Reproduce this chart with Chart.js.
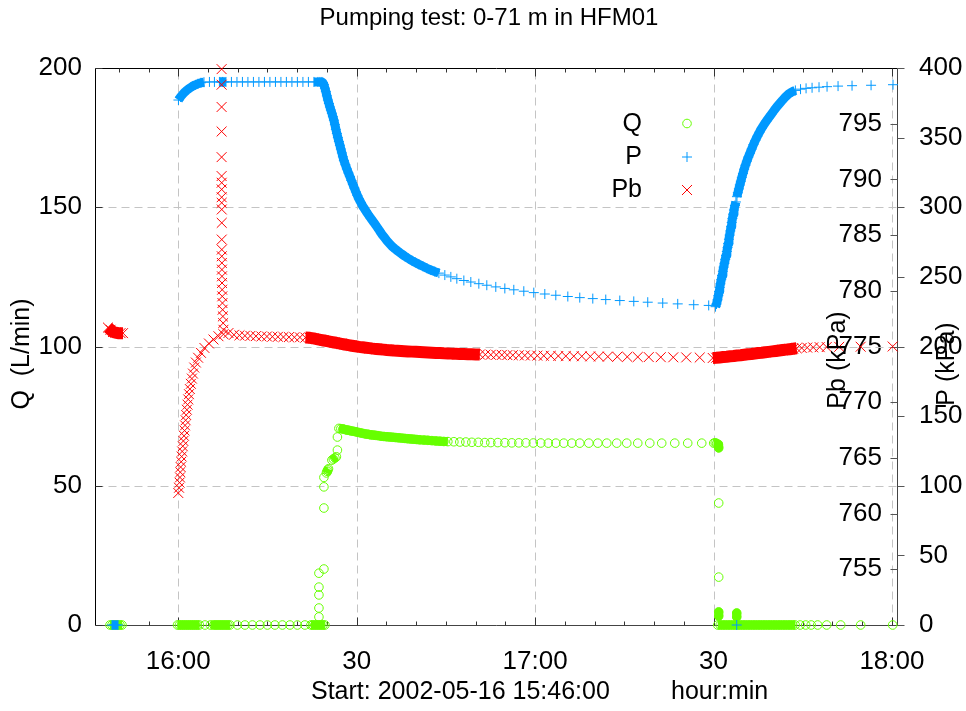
<!DOCTYPE html>
<html><head><meta charset="utf-8">
<script src="https://cdn.jsdelivr.net/npm/chart.js@4.4.0/dist/chart.umd.min.js"></script>
<style>html,body{margin:0;padding:0;background:#fff;}</style>
</head><body>
<canvas id="c" width="966" height="711"></canvas>
<script>
// ---------- texts ----------
const chartTitle = 'Pumping test: 0-71 m in HFM01';
const xLabelStart = 'Start: 2002-05-16 15:46:00';
const xLabelUnit = 'hour:min';
const qAxisTitle = 'Q  (L/min)';
const pbAxisTitle = 'Pb (kPa)';
const pAxisTitle = 'P (kPa)';
const legendLabels = ['Q', 'P', 'Pb'];

// ---------- ticks ----------
const xTickMinutes = [14, 44, 74, 104, 134];          // minutes after 15:46
const xTickLabels = ['16:00', '30', '17:00', '30', '18:00'];
const qTicks = [0, 50, 100, 150, 200];
const pbTicks = [755, 760, 765, 770, 775, 780, 785, 790, 795];
const pTicks = [0, 50, 100, 150, 200, 250, 300, 350, 400];

// ---------- data: time in minutes after 15:46:00 ----------
// Q (L/min)
const tQ = [2.52,2.86,3.19,3.53,3.87,4.20,4.54,
  13.87,14.20,14.54,14.87,15.21,15.55,15.88,16.22,16.55,16.89,17.23,17.56,
  18.49,19.41,
  20.00,20.34,20.67,21.01,21.34,21.68,22.02,22.35,22.69,
  23.95,25.21,26.47,27.73,28.99,30.25,31.51,32.77,34.03,35.29,
  36.30,36.64,36.97,37.31,37.65,37.98,38.32,38.66,
  37.65,37.65,37.65,37.65,37.65,38.49,38.49,38.49,38.49,
  38.91,39.03,39.14,39.26,
  39.83,40.08,40.34,40.59,
  40.76,40.76,
  41.01,41.34,41.68,42.02,42.35,42.69,43.03,43.36,43.78,44.20,44.62,45.04,45.46,45.88,46.30,46.72,47.14,47.56,48.07,48.57,
  49.08,49.58,50.08,50.59,51.09,51.60,52.10,52.61,53.11,53.61,54.12,54.62,55.29,55.97,56.64,57.31,57.98,58.66,59.33,
  60.34,61.34,62.35,63.36,64.45,65.55,66.55,67.73,68.91,70.08,71.26,72.44,73.70,74.96,76.22,77.48,78.82,80.17,81.51,83.03,
  84.54,86.05,87.73,89.41,91.26,93.28,95.29,97.48,99.66,102.02,
  104.03,104.29,104.54,104.79,104.87,
  104.87,104.87,104.87,104.87,107.90,107.90,
  104.71,105.13,105.55,105.97,106.39,106.81,107.23,107.65,108.07,108.49,108.91,109.33,109.75,110.17,110.59,111.01,
  111.43,111.85,112.27,112.69,113.11,113.53,113.95,114.37,114.79,115.21,115.63,116.05,116.47,116.89,117.31,117.73,
  118.57,119.50,120.42,121.51,123.03,125.38,128.74,134.12];
const vQ = [0,0,0,0,0,0,0,
  0,0,0,0,0,0,0,0,0,0,0,0,
  0,0,
  0,0,0,0,0,0,0,0,0,
  0,0,0,0,0,0,0,0,0,0,
  0,0,0,0,0,0,0,0,
  2.9,6.1,10.8,13.6,18.6,20.1,42.0,49.6,53.0,
  54.6,55.2,55.7,56.1,
  59.2,59.6,60.0,60.4,
  62.8,67.5,
  70.6,70.5,70.4,70.2,70.0,69.9,69.7,69.6,69.4,69.2,69.0,68.8,68.6,68.5,68.3,68.2,68.1,68.0,67.8,67.7,
  67.6,67.5,67.4,67.3,67.2,67.1,67.0,66.9,66.8,66.7,66.6,66.5,66.4,66.3,66.2,66.1,66.0,65.9,65.85,
  65.8,65.7,65.7,65.6,65.6,65.5,65.5,65.5,65.45,65.4,65.4,65.4,65.35,65.35,65.3,65.3,65.3,65.3,65.3,65.3,
  65.3,65.3,65.3,65.3,65.3,65.3,65.3,65.3,65.3,65.3,
  65.3,65.4,65.2,64.8,63.6,
  43.8,17.2,4.7,3.2,4.3,2.9,
  0,0,0,0,0,0,0,0,0,0,0,0,0,0,0,0,
  0,0,0,0,0,0,0,0,0,0,0,0,0,0,0,0,
  0,0,0,0,0,0,0,0];

// P (kPa)
const tP = [2.86,3.19,3.53,3.87,
  14.03,14.37,14.71,15.04,15.38,15.71,16.05,16.47,16.89,17.31,17.82,18.32,
  19.24,20.08,20.92,21.18,21.43,21.68,22.02,22.94,23.87,24.79,25.71,26.64,27.56,28.49,29.41,30.34,31.26,32.18,33.11,34.03,34.96,35.88,36.81,37.48,37.82,38.15,
  38.32,38.49,38.66,38.82,38.99,39.16,39.33,39.50,39.66,39.83,40.00,40.17,40.34,40.50,40.67,40.84,41.01,41.18,41.34,41.51,41.68,41.85,
  42.10,42.35,42.61,42.86,43.11,43.36,43.61,43.87,44.12,44.37,44.71,45.04,45.38,45.71,46.05,46.39,46.72,47.06,47.39,47.82,48.24,48.66,49.08,
  49.50,49.92,50.42,50.92,51.51,52.10,52.69,53.28,53.87,54.45,55.13,55.80,56.47,57.14,57.82,
  58.82,59.83,60.84,62.02,63.19,64.54,65.88,67.39,68.91,70.42,72.10,73.78,75.63,77.48,79.50,81.51,83.70,85.88,88.24,90.59,92.94,95.46,97.98,100.67,103.19,
  104.34,104.50,104.67,104.81,104.93,105.04,105.16,105.30,105.43,105.57,105.70,105.84,105.97,106.10,106.24,106.36,106.47,106.59,106.71,106.83,106.94,107.06,107.18,107.30,107.43,107.60,107.77,107.94,
  108.09,108.26,108.42,108.59,108.76,108.95,109.15,109.37,109.60,109.85,110.12,110.41,110.71,111.03,111.37,111.72,112.09,112.48,112.88,113.30,113.74,114.17,114.65,115.12,115.60,116.11,116.65,117.20,117.76,
  118.63,119.56,120.57,121.74,123.09,124.94,127.29,130.49,134.18,
  107.90];
const vP = [0,0,0,0,
  377.0,379.2,381.0,382.5,383.8,384.9,385.9,387.1,387.9,388.7,389.4,389.8,
  390,390,390,390,390,390,390,390,390,390,390,390,390,390,390,390,390,390,390,390,390,390,390,390,390,390,
  389.5,388.0,385.5,383.0,380.0,377.0,374.5,372.0,369.8,367.5,365.0,362.5,359.3,356.0,353.0,350.0,347.2,344.5,341.8,339.0,336.2,333.5,
  330.5,327.5,324.6,322.0,319.2,316.5,313.8,311.0,308.5,306.0,303.3,300.6,298.5,296.2,294.0,292.0,290.0,288.0,286.0,283.3,280.5,278.3,276.0,
  274.0,272.0,270.2,268.5,266.6,264.8,263.2,261.7,260.3,259.0,257.6,256.2,254.9,253.8,252.7,
  251.3,250.0,248.7,247.4,246.3,245.1,244.0,242.8,241.7,240.7,239.7,238.7,237.7,236.8,235.9,235.1,234.4,233.7,233.0,232.4,231.8,231.2,230.6,230.0,229.5,
  228.6,230.5,233.5,236.5,239.5,242.3,245.0,248.0,251.0,254.0,257.0,259.8,262.6,265.4,268.2,271.0,274.0,277.0,280.0,283.0,286.0,289.0,292.0,295.0,298.0,301.3,303.8,307.6,
  310.4,313.2,316.0,318.7,321.5,324.3,327.3,330.2,333.1,336.0,338.8,341.8,345.0,348.0,351.0,353.9,356.7,359.4,361.8,364.3,366.9,369.5,372.2,374.5,376.9,379.3,381.4,382.8,383.9,
  384.8,385.4,385.8,386.2,386.6,387.0,387.3,387.6,388.0,
  0];

// Pb (kPa)
const tPb = [2.18,2.61,3.03,3.45,3.87,4.29,4.71,
  14.00,14.13,14.22,14.29,14.34,14.40,14.49,14.57,14.66,14.76,14.86,14.97,15.06,15.14,15.24,15.33,15.45,15.56,15.68,15.80,
  15.95,16.12,16.29,16.47,16.69,16.96,17.34,17.82,18.40,19.16,19.92,20.76,21.60,22.44,
  21.29,21.29,21.29,21.29,21.29,21.29,21.30,21.30,21.30,21.30,21.31,21.31,21.31,21.32,21.32,21.33,21.34,21.35,21.36,21.38,21.40,21.43,21.46,21.50,21.55,21.60,
  23.36,24.29,25.21,26.13,27.06,27.98,28.91,29.83,30.76,31.68,32.61,33.53,34.45,35.38,
  36.13,36.72,37.31,37.90,38.49,39.08,39.66,40.25,40.84,41.43,42.02,42.61,43.19,43.78,44.37,44.96,45.55,46.13,46.72,47.31,
  47.90,48.49,49.08,49.66,50.25,50.84,51.43,52.02,52.61,53.28,53.95,54.62,55.29,55.97,56.64,57.31,57.98,58.66,59.33,60.00,
  60.67,61.34,62.02,62.69,63.36,64.03,64.71,
  65.63,66.55,67.48,68.40,69.33,70.25,71.26,72.27,73.28,74.37,75.46,76.64,77.90,79.16,80.50,81.85,83.28,84.71,86.22,87.82,
  89.50,91.26,93.11,95.13,97.23,99.41,101.68,
  103.87,104.45,105.04,105.63,106.22,106.81,107.39,107.98,108.57,109.16,109.75,110.34,110.92,111.51,112.10,112.69,113.28,113.87,
  114.45,115.04,115.63,116.22,116.81,117.39,117.98,
  118.82,119.75,120.76,121.85,123.03,125.13,128.74,134.12];
const vPb = [776.7,776.5,776.3,776.25,776.2,776.2,776.2,
  761.85,762.32,762.78,763.25,763.72,764.18,764.65,765.12,765.58,766.05,766.52,766.98,767.45,767.92,768.38,768.85,769.32,769.78,770.25,770.72,
  771.18,771.65,772.12,772.57,773.11,773.56,773.99,774.43,774.87,775.27,775.63,775.92,776.10,776.21,
  799.9,798.5,796.5,794.3,792.0,790.3,789.7,789.1,788.4,787.9,787.3,786.1,784.6,783.7,783.1,782.5,781.9,781.3,780.7,780.1,779.5,778.9,778.3,777.7,777.1,776.5,
  776.05,776.0,775.97,775.95,775.93,775.9,775.9,775.88,775.87,775.85,775.84,775.83,775.82,775.8,
  775.78,775.72,775.66,775.6,775.54,775.48,775.42,775.36,775.3,775.24,775.18,775.12,775.07,775.02,774.97,774.93,774.89,774.85,774.81,774.78,
  774.75,774.72,774.69,774.67,774.64,774.62,774.6,774.58,774.56,774.54,774.52,774.5,774.48,774.46,774.44,774.42,774.41,774.39,774.38,774.36,
  774.35,774.33,774.32,774.31,774.3,774.29,774.28,
  774.27,774.26,774.25,774.24,774.23,774.22,774.21,774.2,774.19,774.18,774.17,774.16,774.15,774.14,774.13,774.12,774.11,774.1,774.09,774.08,
  774.07,774.06,774.05,774.04,774.03,774.02,774.01,
  773.97,773.99,774.02,774.05,774.08,774.12,774.15,774.19,774.22,774.26,774.3,774.33,774.37,774.41,774.44,774.48,774.52,774.56,
  774.6,774.64,774.68,774.72,774.76,774.8,774.84,
  774.87,774.9,774.92,774.94,774.95,774.97,774.98,775.0];

// ---------- styling ----------
const FONT = "'Liberation Sans', Arial, sans-serif";
const COL_Q = '#66ff00', COL_P = '#0099ff', COL_PB = '#ff0000';
const BAND_GAP = 4.8;

function makeSet(label, t, v, axis, style, color, radius, band, order) {
  return {
    label, yAxisID: axis, order,
    data: t.map((x, i) => ({x, y: v[i]})),
    showLine: true, fill: false, tension: 0, clip: false,
    borderColor: color, borderWidth: band, borderCapStyle: 'butt', borderJoinStyle: 'round',
    pointStyle: style, pointRadius: radius, pointBorderWidth: 1,
    pointBorderColor: color, pointBackgroundColor: 'rgba(0,0,0,0)',
    segment: {
      borderColor: c => (Math.hypot(c.p1.x - c.p0.x, c.p1.y - c.p0.y) < BAND_GAP ? color : 'rgba(0,0,0,0)')
    }
  };
}

function seg(ctx, x1, y1, x2, y2) { ctx.beginPath(); ctx.moveTo(x1, y1); ctx.lineTo(x2, y2); ctx.stroke(); }

const deco = {
  id: 'deco',
  beforeDatasetsDraw(chart) {
    const {ctx, chartArea: a, scales} = chart;
    const X = scales.x, Q = scales.yQ, PB = scales.yPb, P = scales.yP;
    const L = Math.round(a.left) + 0.5, R = Math.round(a.right) + 0.5;
    const T = Math.round(a.top) + 0.5, B = Math.round(a.bottom) + 0.5;
    ctx.save();
    ctx.lineWidth = 1;
    // dashed grid
    ctx.strokeStyle = '#c4c4c4';
    ctx.setLineDash([8, 5]);
    for (const m of xTickMinutes) {
      const px = Math.round(X.getPixelForValue(m)) + 0.5;
      seg(ctx, px, B, px, T);
    }
    for (const q of qTicks) {
      if (q === Q.min || q === Q.max) continue;
      const py = Math.round(Q.getPixelForValue(q)) + 0.5;
      seg(ctx, L, py, R, py);
    }
    ctx.setLineDash([]);
    // frame
    ctx.strokeStyle = '#000';
    seg(ctx, L, T, R, T); seg(ctx, L, T, L, B);
    ctx.strokeStyle = '#444';
    seg(ctx, L, B, R + 0.5, B); seg(ctx, R, T, R, B);
    // x tics (inward, mirrored on top), every 5 min
    ctx.strokeStyle = '#333';
    for (let m = 4; m <= X.max + 1e-9; m += 5) {
      const px = Math.round(X.getPixelForValue(m)) + 0.5;
      const len = ((m - 14) % 30 === 0) ? 8 : 4;
      seg(ctx, px, B, px, B - len);
      seg(ctx, px, T, px, T + len);
    }
    for (const q of qTicks) { const py = Math.round(Q.getPixelForValue(q)) + 0.5; seg(ctx, L, py, L + 7, py); }
    ctx.strokeStyle = '#555';
    for (const v of pbTicks) { const py = Math.round(PB.getPixelForValue(v)) + 0.5; seg(ctx, R, py, R - 7, py); }
    for (const v of pTicks) { const py = Math.round(P.getPixelForValue(v)) + 0.5; seg(ctx, R, py, R + 7, py); }
    ctx.restore();
  },
  afterDraw(chart) {
    const {ctx} = chart;
    ctx.save();
    ctx.fillStyle = '#000';
    ctx.textBaseline = 'middle';
    ctx.font = '24px ' + FONT;
    ctx.textAlign = 'center';
    ctx.fillText(chartTitle, 489, 18);
    ctx.font = '25px ' + FONT;
    ctx.textAlign = 'left';
    ctx.fillText(xLabelStart, 311, 692);
    ctx.fillText(xLabelUnit, 671, 692);
    const rot = (txt, x, y) => {
      ctx.save(); ctx.translate(x, y); ctx.rotate(-Math.PI / 2);
      ctx.textAlign = 'center'; ctx.fillText(txt, 0, 0); ctx.restore();
    };
    rot(qAxisTitle, 22, 354);
    rot(pbAxisTitle, 838, 360);
    rot(pAxisTitle, 947, 364);
    // legend
    ctx.textAlign = 'right';
    const ly = [124, 157, 190], sx = 687;
    legendLabels.forEach((s, i) => ctx.fillText(s, 642, ly[i]));
    ctx.lineWidth = 1;
    ctx.strokeStyle = COL_Q;
    ctx.beginPath(); ctx.arc(sx, ly[0] - 0.5, 4.3, 0, Math.PI * 2); ctx.stroke();
    ctx.strokeStyle = COL_P;
    seg(ctx, sx - 5, ly[1], sx + 5, ly[1]); seg(ctx, sx, ly[1] - 5, sx, ly[1] + 5);
    ctx.strokeStyle = COL_PB;
    seg(ctx, sx - 5, ly[2] - 5, sx + 5, ly[2] + 5); seg(ctx, sx - 5, ly[2] + 5, sx + 5, ly[2] - 5);
    ctx.restore();
  }
};

const tickFont = {family: FONT, size: 26};

new Chart(document.getElementById('c'), {
  type: 'line',
  data: {
    datasets: [
      makeSet('Pb', tPb, vPb, 'yPb', 'crossRot', COL_PB, 7, 12, 1),
      makeSet('P', tP, vP, 'yP', 'cross', COL_P, 5, 9, 2),
      makeSet('Q', tQ, vQ, 'yQ', 'circle', COL_Q, 4.3, 9, 3)
    ]
  },
  options: {
    responsive: false, animation: false, devicePixelRatio: 1, events: [],
    layout: {padding: {top: 68, left: 0, right: 0, bottom: 0}},
    plugins: {legend: {display: false}, title: {display: false}, tooltip: {enabled: false}},
    scales: {
      x: {
        type: 'linear', position: 'bottom', min: 0, max: 134.85,
        afterBuildTicks: s => { s.ticks = xTickMinutes.map(v => ({value: v})); },
        afterFit: s => { s.height = 86; },
        ticks: {callback: (v, i) => xTickLabels[i], font: tickFont, color: '#000', padding: 21,
                autoSkip: false, maxRotation: 0, minRotation: 0},
        grid: {display: false, drawTicks: false}, border: {display: false}
      },
      yQ: {
        type: 'linear', position: 'left', min: 0, max: 200,
        afterBuildTicks: s => { s.ticks = qTicks.map(v => ({value: v})); },
        afterFit: s => { s.width = 95; },
        ticks: {font: tickFont, color: '#000', padding: 13},
        grid: {display: false, drawTicks: false}, border: {display: false}
      },
      yPb: {
        type: 'linear', position: 'right', min: 750, max: 800,
        afterBuildTicks: s => { s.ticks = pbTicks.map(v => ({value: v})); },
        afterFit: s => { s.width = 0; },
        ticks: {mirror: true, font: tickFont, color: '#000', padding: -15},
        grid: {display: false, drawTicks: false}, border: {display: false}
      },
      yP: {
        type: 'linear', position: 'right', min: 0, max: 400,
        afterBuildTicks: s => { s.ticks = pTicks.map(v => ({value: v})); },
        afterFit: s => { s.width = 69; },
        ticks: {font: tickFont, color: '#000', padding: 22},
        grid: {display: false, drawTicks: false}, border: {display: false}
      }
    }
  },
  plugins: [deco]
});
</script>
</body></html>
